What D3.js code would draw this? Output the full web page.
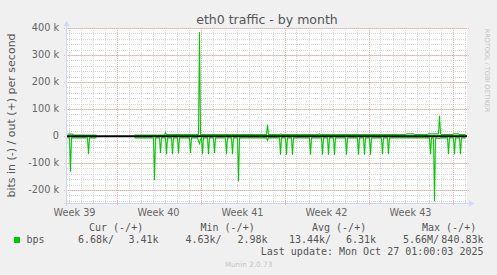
<!DOCTYPE html>
<html><head><meta charset="utf-8">
<script src="https://cdn.jsdelivr.net/npm/d3@7"></script>
<style>
html,body{margin:0;padding:0;background:#F0F0F0;}
svg{display:block;}
text{font-family:"DejaVu Sans",sans-serif;fill:#555;}
.mono{font-family:"DejaVu Sans Mono",monospace;font-size:10px;fill:#555;}
</style></head>
<body>
<script>
// ---- data (step = one 2-hour pixel column, 0..399) ----
const title = "eth0 traffic - by month";
const yLabel = "bits in (-) / out (+) per second";
const yTicks = [-200e3, -100e3, 0, 100e3, 200e3, 300e3, 400e3];
const yTickLabels = ["-200 k", "-100 k", "0", "100 k", "200 k", "300 k", "400 k"];
const yDomain = [-248.1e3, 400e3];
const minorStepY = 20e3;
const weekStarts = ["2025-09-22", "2025-09-29", "2025-10-06", "2025-10-13", "2025-10-20", "2025-10-27"];
const weekLabels = ["Week 39", "Week 40", "Week 41", "Week 42", "Week 43"];
const startTime = "2025-09-24T21:00:00Z";
const totalSteps = 400;

// out (+) series vertices [step, bits/s]; null = no data
const outData = [
  [0,7e3],[5,7e3],[6,4e3],[29,4e3],[30,null],
  [67,4e3],[97,4e3],[98,13e3],[99,5e3],[131,5e3],[132,385e3],[133,5e3],
  [199,5e3],[200,42e3],[201,5e3],[212,5e3],[213,8e3],[214,5e3],
  [251,5e3],[252,8e3],[253,5e3],[338,5e3],[339,8e3],[346,8e3],[347,5e3],
  [360,5e3],[361,8e3],[371,8e3],[372,75e3],[373,8e3],[374,5e3],
  [385,5e3],[386,8e3],[391,8e3],[392,5e3],[398,5e3]
];
// in (-) series vertices [step, bits/s]
const inData = [
  [0,-7e3],[2,-7e3],[3,-131e3],[4,-7e3],[20,-7e3],[21,-67e3],[22,-7e3],[29,-7e3],[30,null],
  [67,-7e3],[86,-7e3],[87,-164e3],[88,-7e3],[92,-7e3],[93,-63e3],[94,-7e3],
  [98,-7e3],[99,-67e3],[100,-7e3],[104,-7e3],[105,-67e3],[106,-7e3],
  [110,-7e3],[111,-65e3],[112,-7e3],[122,-7e3],[123,-63e3],[124,-7e3],
  [130,-7e3],[131,-18e3],[132,-28e3],[133,-12e3],[134,-7e3],[135,-67e3],[136,-7e3],
  [140,-7e3],[141,-67e3],[142,-7e3],[146,-7e3],[147,-63e3],[148,-7e3],
  [158,-7e3],[159,-67e3],[160,-7e3],[164,-7e3],[165,-67e3],[166,-7e3],
  [170,-7e3],[171,-168e3],[172,-7e3],[199,-7e3],[200,-16e3],[201,-7e3],
  [212,-7e3],[213,-69e3],[214,-7e3],[218,-7e3],[219,-69e3],[220,-7e3],
  [224,-7e3],[225,-69e3],[226,-7e3],[242,-7e3],[243,-69e3],[244,-7e3],
  [254,-7e3],[255,-69e3],[256,-7e3],[260,-7e3],[261,-69e3],[262,-7e3],
  [266,-7e3],[267,-69e3],[268,-7e3],[278,-7e3],[279,-69e3],[280,-7e3],
  [290,-7e3],[291,-69e3],[292,-7e3],[296,-7e3],[297,-69e3],[298,-7e3],
  [302,-7e3],[303,-69e3],[304,-7e3],[314,-7e3],[315,-67e3],[316,-7e3],
  [320,-7e3],[321,-67e3],[322,-7e3],[362,-7e3],[363,-67e3],[364,-7e3],
  [366,-7e3],[367,-242e3],[368,-7e3],[372,-10e3],[373,-7e3],
  [380,-7e3],[381,-67e3],[382,-7e3],[386,-7e3],[387,-67e3],[388,-7e3],
  [392,-7e3],[393,-67e3],[394,-7e3],[398,-7e3]
];

const legendName = "bps";
const legendHeaders = ["Cur (-/+)", "Min (-/+)", "Avg (-/+)", "Max (-/+)"];
const legendIn = ["6.68k/", "4.63k/", "13.44k/", "5.66M/"];
const legendOut = ["3.41k", "2.98k", "6.31k", "840.83k"];
const lastUpdate = "Last update: Mon Oct 27 01:00:03 2025";
const footer = "Munin 2.0.73";
const watermark = "RRDTOOL / TOBI OETIKER";

// ---- drawing ----
const W = 497, H = 275;
const L = 67, R = 467, T = 28, B = 203;
const GREEN = "#00CC00", AXIS = "#CFD6F8";
const GRID = "#D6D6D6", MGRID = "#EFB0B0";
const t0 = new Date(startTime);
const stepMs = 2 * 3600e3;
const t1 = new Date(+t0 + totalSteps * stepMs);
const stepTime = s => new Date(+t0 + (s + 0.5) * stepMs);

const svg = d3.select("body").append("svg").attr("width", W).attr("height", H);
svg.append("rect").attr("width", W).attr("height", H).attr("fill", "#F0F0F0");

const x = d3.scaleUtc().domain([t0, t1]).range([L, R]);
const y = d3.scaleLinear().domain(yDomain).range([B, T]);

svg.append("rect").attr("x", L).attr("y", T).attr("width", R - L).attr("height", B - T).attr("fill", "#fff");

const px = v => Math.round(v) + 0.5;
const g = svg.append("g").attr("shape-rendering", "crispEdges");

// minor horizontal grid
const minorY = d3.range(Math.ceil(yDomain[0] / minorStepY) * minorStepY, yDomain[1] + 1, minorStepY);
g.selectAll(".mh").data(minorY).join("line")
  .attr("x1", L).attr("x2", R).attr("y1", d => px(y(d))).attr("y2", d => px(y(d)))
  .attr("stroke", GRID).attr("stroke-dasharray", "1,1");
// minor vertical grid (days)
const days = d3.utcDay.range(t0, t1);
g.selectAll(".mv").data(days).join("line")
  .attr("x1", d => px(x(d))).attr("x2", d => px(x(d))).attr("y1", T).attr("y2", B)
  .attr("stroke", GRID).attr("stroke-dasharray", "1,1");
// major horizontal grid
g.selectAll(".Mh").data(yTicks).join("line")
  .attr("x1", L - 3).attr("x2", R + 2).attr("y1", d => px(y(d))).attr("y2", d => px(y(d)))
  .attr("stroke", MGRID).attr("stroke-dasharray", "1,1");
// major vertical grid (weeks)
const weeks = weekStarts.map(d => new Date(d + "T00:00:00Z")).filter(d => d > t0 && d < t1);
g.selectAll(".Mv").data(weeks).join("line")
  .attr("x1", d => px(x(d))).attr("x2", d => px(x(d))).attr("y1", T).attr("y2", B + 3)
  .attr("stroke", MGRID).attr("stroke-dasharray", "1,1");

// axes
g.append("line").attr("x1", L - 3).attr("x2", R + 2).attr("y1", B + 0.5).attr("y2", B + 0.5).attr("stroke", AXIS);
g.append("line").attr("x1", L - 0.5).attr("x2", L - 0.5).attr("y1", B + 3).attr("y2", T - 3).attr("stroke", AXIS);
svg.append("path").attr("d", `M${R + 2},${B - 2.5} L${R + 7},${B + 0.5} L${R + 2},${B + 3.5} Z`).attr("fill", AXIS);
svg.append("path").attr("d", `M${L - 3.5},${T - 2} L${L - 0.5},${T - 7} L${L + 2.5},${T - 2} Z`).attr("fill", AXIS);

// y tick labels
svg.selectAll(".yl").data(yTicks).join("text")
  .attr("x", 59).attr("y", d => y(d) + 3.4).attr("text-anchor", "end")
  .attr("font-size", "9.7px").style("fill", "#666")
  .text((d, i) => yTickLabels[i]);

// x labels (week middles)
const weekMid = weekStarts.slice(0, weekLabels.length).map(d => new Date(+new Date(d + "T00:00:00Z") + 3.5 * 86400e3));
svg.selectAll(".xl").data(weekMid).join("text")
  .attr("x", d => x(d)).attr("y", 216).attr("text-anchor", "middle")
  .attr("font-size", "9.7px").style("fill", "#666")
  .text((d, i) => weekLabels[i]);

// series
const clip = svg.append("clipPath").attr("id", "pc").append("rect")
  .attr("x", L).attr("y", T).attr("width", R - L).attr("height", B - T);
const line = d3.line().defined(d => d[1] !== null).x(d => x(stepTime(d[0]))).y(d => y(d[1]));
const series = svg.append("g").attr("clip-path", "url(#pc)");
series.append("path").datum(inData).attr("d", line).attr("fill", "none").attr("stroke", GREEN).attr("stroke-width", 1.1);
series.append("path").datum(outData).attr("d", line).attr("fill", "none").attr("stroke", GREEN).attr("stroke-width", 1.1);
// zero rule
svg.append("line").attr("x1", L).attr("x2", R).attr("y1", y(0) + 0.3).attr("y2", y(0) + 0.3)
  .attr("stroke", "#000").attr("stroke-width", 2);

// title
svg.append("text").attr("x", (L + R) / 2).attr("y", 24).attr("text-anchor", "middle")
  .attr("font-size", "12.5px").style("fill", "#555").text(title);
// y axis title
svg.append("text").attr("transform", `translate(14.5,${(T + B) / 2}) rotate(-90)`)
  .attr("text-anchor", "middle").attr("font-size", "11px").style("fill", "#555").text(yLabel);
// watermark
svg.append("text").attr("transform", `translate(485,70.5) rotate(90)`)
  .attr("text-anchor", "middle").attr("font-size", "6.5px").style("fill", "#C4C4C4").text(watermark);

// legend
const hdrX = [89, 200.5, 312, 422];
svg.selectAll(".lh").data(legendHeaders).join("text").attr("class", "mono")
  .attr("x", (d, i) => hdrX[i]).attr("y", 230.7).text(d => d);
svg.append("rect").attr("x", 14).attr("y", 237).attr("width", 6).attr("height", 6).attr("fill", GREEN);
svg.append("text").attr("class", "mono").attr("x", 26.5).attr("y", 243.3).text(legendName);
const inX = [78, 185.5, 289, 403];
const outEnd = [158.5, 267.5, 376, 483.5];
svg.selectAll(".li").data(legendIn).join("text").attr("class", "mono")
  .attr("x", (d, i) => inX[i]).attr("y", 243.3).text(d => d);
svg.selectAll(".lo").data(legendOut).join("text").attr("class", "mono")
  .attr("x", (d, i) => outEnd[i]).attr("y", 243.3).attr("text-anchor", "end").text(d => d);
svg.append("text").attr("class", "mono").attr("x", 483.5).attr("y", 255).attr("text-anchor", "end").text(lastUpdate);
svg.append("text").attr("x", 248.5).attr("y", 266.5).attr("text-anchor", "middle")
  .attr("font-size", "7.3px").style("fill", "#C4C4C4").text(footer);
</script>
</body></html>
